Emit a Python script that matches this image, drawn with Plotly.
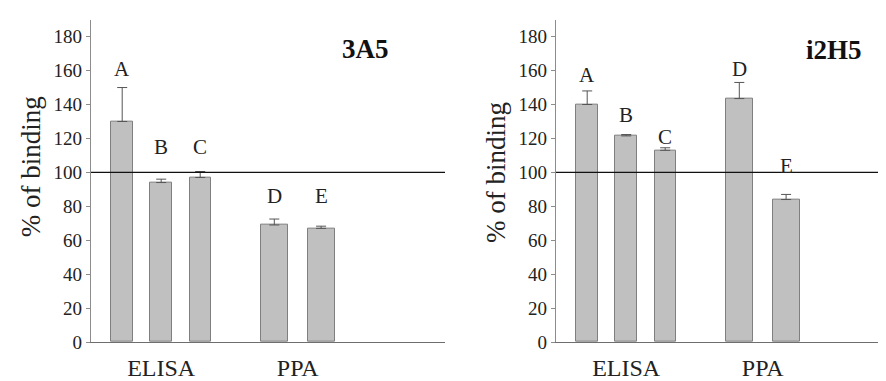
import plotly.graph_objects as go

# ---------------- data ----------------
letters = ["A", "B", "C", "D", "E"]
categories = ["ELISA", "PPA"]
panel_titles = ["3A5", "i2H5"]

values_3a5 = [130, 94, 97, 69, 67]
errors_3a5 = [20, 2, 3.5, 3.5, 1.3]

values_i2h5 = [140, 121.5, 113, 143.5, 84]
errors_i2h5 = [8, 0.8, 1.5, 9.5, 3]

y_tick_vals = [0, 20, 40, 60, 80, 100, 120, 140, 160, 180]
reference_level = 100

# ---------------- layout constants ----------------
BAR_SLOT = [1, 2, 3, 4.9, 6.1]
BAR_W = [0.55, 0.56, 0.54, 0.69, 0.69]
CAT_POS = [2, 5.5]
LETTER_Y = {
    "3A5": [161, 115, 115, 86, 86],
    "i2H5": [157.5, 134, 121, 161, 104],
}
FONT = "Liberation Serif"
W, H = 886, 381

fig = go.Figure()

panels = [
    ("3A5", values_3a5, errors_3a5, "x", "y"),
    ("i2H5", values_i2h5, errors_i2h5, "x2", "y2"),
]

for name, vals, errs, xa, ya in panels:
    fig.add_trace(go.Bar(
        x=BAR_SLOT, y=vals, width=BAR_W,
        marker=dict(color="#c0c0c0", line=dict(color="#7f7f7f", width=1)),
        error_y=dict(type="data", array=errs, arrayminus=[0] * len(errs),
                     symmetric=False, color="#555555", thickness=1, width=5),
        xaxis=xa, yaxis=ya, showlegend=False,
    ))
    for i, lt in enumerate(letters):
        fig.add_annotation(x=BAR_SLOT[i], y=LETTER_Y[name][i], xref=xa, yref=ya,
                           text=lt, showarrow=False, xanchor="center", yanchor="middle",
                           font=dict(family=FONT, size=21, color="#222222"))
    fig.add_shape(type="line", xref=f"{xa} domain", yref=ya,
                  x0=0, x1=1, y0=reference_level, y1=reference_level,
                  line=dict(color="#111111", width=1.2))

y_bottom = (H - 344) / H
y_top = (H - 12) / H

axis_common_y = dict(
    range=[0, 190], tickvals=y_tick_vals, showgrid=False, zeroline=False,
    showline=True, linecolor="#8c8c8c", linewidth=1.3,
    ticks="outside", ticklen=4, tickcolor="#8c8c8c",
    tickfont=dict(family=FONT, size=19, color="#222222"),
    domain=[y_bottom, y_top],
)
axis_common_x = dict(
    tickvals=CAT_POS, ticktext=categories, showgrid=False, zeroline=False,
    showline=True, linecolor="#6e6e6e", linewidth=1.3, ticks="",
    tickfont=dict(family=FONT, size=24, color="#222222"),
    ticklabelstandoff=4,
)

fig.update_layout(
    width=W, height=H,
    margin=dict(l=0, r=0, t=0, b=0),
    paper_bgcolor="white", plot_bgcolor="white",
    font=dict(family=FONT),
    bargap=0,
    xaxis=dict(axis_common_x, domain=[83 / W, 437 / W], range=[0.2, 0.2 + 354 / 39], anchor="y"),
    yaxis=dict(axis_common_y, anchor="x"),
    xaxis2=dict(axis_common_x, domain=[548 / W, 1.0], range=[0.2, 0.2 + 338 / 39], anchor="y2"),
    yaxis2=dict(axis_common_y, anchor="x2"),
)

# panel titles
for title, (xc, yc) in zip(panel_titles, [(357, 42), (826, 43)]):
    fig.add_annotation(x=xc / W, y=(H - yc) / H, xref="paper", yref="paper",
                       text=f"<b>{title}</b>", showarrow=False,
                       xanchor="center", yanchor="middle",
                       font=dict(family=FONT, size=27, color="#111111"))

# y-axis titles
for xc, yc in [(23, 164), (488, 170)]:
    fig.add_annotation(x=xc / W, y=(H - yc) / H, xref="paper", yref="paper",
                       text="% of binding", textangle=-90, showarrow=False,
                       xanchor="center", yanchor="middle",
                       font=dict(family=FONT, size=27, color="#222222"))

fig.write_html("out.html")
